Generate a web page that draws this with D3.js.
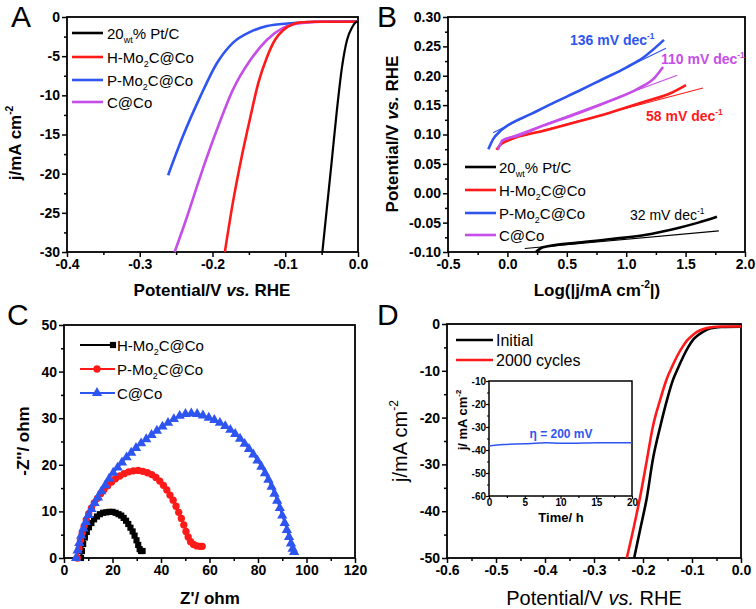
<!DOCTYPE html>
<html><head><meta charset="utf-8">
<script src="https://cdn.jsdelivr.net/npm/d3@7"></script>
<style>body{margin:0;background:#fff} svg{display:block} text{font-family:"Liberation Sans",Arial,sans-serif}</style>
</head><body><svg id="c" width="756" height="609"></svg>
<script>
// ---------- DATA ----------
// Panel A: LSV curves [potential V, j mA cm-2]
const aPtC  = [[0,-0.6],[-0.001,-0.6],[-0.008,-1.3],[-0.015,-2.9],[-0.022,-6.4],[-0.029,-11.9],[-0.036,-18.3],[-0.043,-24.6],[-0.049,-30]];
const aHMo  = [[0,-0.6],[-0.06,-0.6],[-0.08,-0.7],[-0.089,-0.9],[-0.103,-1.7],[-0.114,-2.9],[-0.125,-5.1],[-0.137,-8.4],[-0.148,-12.8],[-0.16,-17.9],[-0.172,-23.7],[-0.183,-30]];
const aPMo  = [[0,-0.55],[-0.06,-0.6],[-0.093,-0.8],[-0.125,-1.15],[-0.148,-1.9],[-0.172,-3.3],[-0.194,-5.9],[-0.217,-10.2],[-0.241,-15.3],[-0.261,-20.2]];
const aCCo  = [[0,-0.6],[-0.05,-0.6],[-0.08,-0.8],[-0.103,-1.4],[-0.125,-2.9],[-0.148,-5.5],[-0.172,-9.3],[-0.194,-14.4],[-0.217,-20.4],[-0.235,-25.5],[-0.252,-30]];
const aXTicks = [-0.4,-0.3,-0.2,-0.1,0.0];
const aYTicks = [0,-5,-10,-15,-20,-25,-30];

// Panel B: Tafel plots [log j, potential]
const bPtC    = [[0.24,-0.1],[0.3,-0.092],[0.596,-0.084],[0.876,-0.078],[1.157,-0.071],[1.438,-0.059],[1.607,-0.05],[1.764,-0.04]];
const bPtCFit = [[0.146,-0.094],[1.78,-0.064]];
const bHMo    = [[-0.093,0.074],[-0.05,0.084],[0.02,0.091],[0.315,0.107],[0.596,0.122],[0.876,0.138],[1.157,0.156],[1.382,0.171],[1.503,0.184]];
const bHMoFit = [[-0.022,0.09],[1.646,0.179]];
const bPMo    = [[-0.16,0.075],[-0.12,0.092],[-0.06,0.106],[0,0.115],[0.2,0.135],[0.4,0.155],[0.6,0.174],[0.8,0.194],[1.0,0.214],[1.15,0.232],[1.318,0.261]];
const bPMoFit = [[-0.121,0.103],[1.335,0.247]];
const bCCo    = [[-0.08,0.074],[-0.04,0.09],[0.09,0.098],[0.315,0.116],[0.596,0.136],[0.876,0.158],[1.1,0.178],[1.24,0.197],[1.31,0.215]];
const bCCoFit = [[-0.05,0.09],[1.43,0.201]];
const bXTicks = [-0.5,0.0,0.5,1.0,1.5,2.0];
const bYTicks = [0.30,0.25,0.20,0.15,0.10,0.05,0.00,-0.05,-0.10];
const bSlopes = ["136","110","58","32"];

// Panel C: Nyquist [Z', -Z'']
const cHMo = [[7,0],[7.4,1.5],[7.9,3],[8.6,4.4],[9.4,5.6],[10.3,6.6],[11.3,7.5],[12.4,8.3],[13.6,8.9],[14.8,9.4],[16.1,9.7],[17.4,9.8],[18.7,9.9],[20,9.9],[21.3,9.7],[22.5,9.4],[23.6,9.1],[24.6,8.6],[25.6,8],[26.5,7.3],[27.4,6.5],[28.3,5.7],[29.1,4.8],[29.9,3.8],[30.6,2.8],[31.2,1.9],[31.8,1.5],[32.4,1.5]];
const cPMo = [[5.5,0],[6.2,2],[6.8,3.8],[7.5,5.3],[8.3,6.8],[9.2,8.2],[10.2,9.5],[11.3,10.7],[12.5,11.8],[13.8,12.8],[15.1,13.8],[16.5,14.7],[18,15.5],[19.6,16.3],[21.2,17],[23,17.6],[24.8,18.1],[26.7,18.5],[28.6,18.7],[30.6,18.8],[32.5,18.6],[34.4,18.3],[36.2,17.9],[37.9,17.3],[39.5,16.5],[41,15.6],[42.4,14.6],[43.7,13.5],[45,12.4],[46.2,11.1],[47.3,9.8],[48.4,8.5],[49.4,7.1],[50.3,5.7],[51.2,4.5],[52.2,3.5],[53.4,2.9],[54.8,2.6],[56.2,2.5],[57,2.5]];
const cCCo = [[5,0],[5.6,1.6],[6.3,3.2],[7.1,4.8],[8,6.3],[9,7.7],[10.1,9.2],[11.3,10.5],[12.6,11.8],[14,13],[15.4,14.3],[17,15.6],[18.6,17],[20.3,18.3],[22.1,19.4],[23.9,20.5],[25.8,21.6],[27.7,22.6],[29.7,23.6],[31.8,24.6],[33.9,25.5],[36.1,26.4],[38.3,27.3],[40.6,28.2],[42.9,29],[45.3,29.8],[47.7,30.5],[50.1,30.9],[52.5,31],[54.9,30.9],[57.3,30.6],[59.7,30.1],[62,29.6],[64.3,29],[66.5,28.3],[68.6,27.5],[70.6,26.6],[72.6,25.6],[74.5,24.5],[76.3,23.4],[78.1,22.2],[79.8,20.9],[81.4,19.6],[82.9,18.2],[84.3,16.8],[85.6,15.3],[86.8,13.8],[87.9,12.3],[89,10.7],[90,9.1],[91,7.5],[91.9,6],[92.8,4.5],[93.6,3.1],[94.3,2],[94.9,1.3]];
const cXTicks = [0,20,40,60,80,100,120];
const cYTicks = [0,10,20,30,40,50];

// Panel D: stability LSV [potential, j]
const dInitial = [[0,-0.6],[-0.04,-0.65],[-0.055,-0.8],[-0.065,-1.0],[-0.078,-1.7],[-0.088,-2.4],[-0.098,-3.4],[-0.108,-5],[-0.118,-7],[-0.128,-9.3],[-0.139,-12],[-0.151,-16.2],[-0.165,-22],[-0.18,-29],[-0.192,-37],[-0.206,-44],[-0.218,-50]];
const d2000    = [[0,-0.5],[-0.04,-0.55],[-0.06,-0.7],[-0.075,-1.0],[-0.09,-1.7],[-0.1,-2.5],[-0.11,-3.5],[-0.12,-5],[-0.131,-7],[-0.141,-9.2],[-0.151,-11.6],[-0.165,-16.2],[-0.18,-22],[-0.192,-29],[-0.206,-37],[-0.22,-44],[-0.233,-50]];
const dXTicks = [-0.6,-0.5,-0.4,-0.3,-0.2,-0.1,0.0];
const dYTicks = [0,-10,-20,-30,-40,-50];
// Inset: chronoamperometry [time h, j]
const insetJ = [[0,-38.2],[0.5,-38],[2,-37.6],[5,-37.3],[7,-37],[8,-36.9],[10,-37.1],[13,-37],[15,-36.9],[17,-36.8],[20,-36.8]];
const insetXTicks = [0,5,10,15,20];
const insetYTicks = [-10,-20,-30,-40,-50,-60];

// ---------- COLORS ----------
const BLACK="#000", RED="#ff1a1a", BLUE="#2f55f0", VIOLET="#c64ee8";

// ---------- HELPERS ----------
const svg = d3.select("#c");
const hy = s => s.replace(/\u2212/g,"-");
function rich(t, parts, fs){
  let shift=0;
  parts.forEach(p=>{
    const [s,type]=Array.isArray(p)?p:[p,""];
    const ts=t.append("tspan").text(s);
    let target = type==="sub"? fs*0.3 : type==="sup"? -fs*0.45 : 0;
    if(target!==shift){ ts.attr("dy", target-shift); shift=target; }
    if(type) ts.attr("font-size", fs*0.6);
  });
  return t;
}
function panel(o){
  const x=d3.scaleLinear().domain(o.xd).range([o.l,o.r]);
  const y=d3.scaleLinear().domain(o.yd).range([o.b,o.t]);
  const g=svg.append("g");
  const fs=o.fs||14, sw=o.sw||1.5;
  const mj=o.major||5, mn=o.minor||3;
  const pad=o.pad===undefined?2:o.pad;
  const ax=g.append("g").attr("transform",`translate(0,${o.b})`)
    .call(d3.axisBottom(x).tickValues(o.xt).tickSize(mj).tickPadding(pad).tickFormat(d=>hy(o.xf(d))));
  const axm=g.append("g").attr("transform",`translate(0,${o.b})`)
    .call(d3.axisBottom(x).tickValues(o.xm).tickSize(mn).tickFormat(""));
  const ay=g.append("g").attr("transform",`translate(${o.l},0)`)
    .call(d3.axisLeft(y).tickValues(o.yt).tickSize(mj).tickPadding(pad).tickFormat(d=>hy(o.yf(d))));
  const aym=g.append("g").attr("transform",`translate(${o.l},0)`)
    .call(d3.axisLeft(y).tickValues(o.ym).tickSize(mn).tickFormat(""));
  [ax,axm,ay,aym].forEach(a=>{a.select(".domain").remove();a.selectAll("line").attr("stroke","#000").attr("stroke-width",sw);
    a.selectAll("text").attr("font-size",fs).attr("font-weight","bold").attr("fill","#000").attr("font-family","'Liberation Sans',Arial,sans-serif");});
  g.append("rect").attr("x",o.l).attr("y",o.t).attr("width",o.r-o.l).attr("height",o.b-o.t)
    .attr("fill","none").attr("stroke","#000").attr("stroke-width",sw+0.3);
  return {x,y,g};
}
function range(a,b,s){const r=[];for(let v=a;v<=b+1e-9;v+=s)r.push(+v.toFixed(6));return r;}
function curve(p,data,color,w){
  p.g.append("path").datum(data).attr("fill","none").attr("stroke",color).attr("stroke-width",w)
   .attr("stroke-linejoin","round").attr("stroke-linecap","butt")
   .attr("d",d3.line().x(d=>p.x(d[0])).y(d=>p.y(d[1])).curve(d3.curveMonotoneX));
}
function curveXY(p,data,color,w){
  p.g.append("path").datum(data).attr("fill","none").attr("stroke",color).attr("stroke-width",w)
   .attr("stroke-linejoin","round")
   .attr("d",d3.line().x(d=>p.x(d[0])).y(d=>p.y(d[1])).curve(d3.curveCatmullRom));
}
function label(x,y,parts,opt){
  const t=svg.append("text").attr("x",x).attr("y",y).attr("font-size",opt.fs)
    .attr("font-weight",opt.bold?"bold":"normal").attr("fill",opt.fill||"#000")
    .attr("text-anchor",opt.anchor||"start");
  if(opt.rot) t.attr("transform",`rotate(-90,${x},${y})`);
  rich(t,parts,opt.fs); return t;
}
const f1=d3.format(".1f"), f2=d3.format(".2f"), f0=d3.format("d");

// ---------- PANEL A ----------
const A=panel({l:67,r:358,t:17,b:252,xd:[-0.4,0],yd:[-30,0],xt:aXTicks,xm:range(-0.35,-0.05,0.1),
  yt:aYTicks,ym:range(-27.5,-2.5,5),xf:f1,yf:f0});
curve(A,aPMo.slice().reverse(),BLUE,2.6);
curve(A,aCCo.slice().reverse(),VIOLET,2.6);
curve(A,aHMo.slice().reverse(),RED,2.6);
curve(A,aPtC.slice().reverse(),BLACK,2.2);
const legA=[[["20"],["wt","sub"],["% Pt/C"]],[["H-Mo"],["2","sub"],["C@Co"]],[["P-Mo"],["2","sub"],["C@Co"]],[["C@Co"]]];
[BLACK,RED,BLUE,VIOLET].forEach((c,i)=>{
  const yy=[33,57,80,102][i];
  svg.append("line").attr("x1",72).attr("x2",103).attr("y1",yy).attr("y2",yy).attr("stroke",c).attr("stroke-width",2.6);
  label(107,yy+5.5,legA[i],{fs:15});
});
label(212,296,[["Potential/V "],["vs."],[" RHE"]],{fs:17,bold:true,anchor:"middle"}).selectAll("tspan").filter((d,i)=>i===1).attr("font-style","italic");
label(21,143,[["j/mA cm"],["-2","sup"]],{fs:17,bold:true,anchor:"middle",rot:true});
svg.append("text").attr("x",11).attr("y",27).attr("font-size",30).text("A");

// ---------- PANEL B ----------
const B=panel({l:448,r:745,t:17,b:252,xd:[-0.5,2],yd:[-0.1,0.3],xt:bXTicks,xm:range(-0.25,1.75,0.5),
  yt:bYTicks,ym:range(-0.075,0.275,0.05),xf:f1,yf:f2});
curve(B,bPtC,BLACK,2.6); curve(B,bPtCFit,BLACK,1.1);
curve(B,bHMo,RED,2.6); curve(B,bHMoFit,RED,1.1);
curve(B,bCCo,VIOLET,2.6); curve(B,bCCoFit,VIOLET,1.1);
curve(B,bPMo,BLUE,2.6); curve(B,bPMoFit,BLUE,1.1);
[BLACK,RED,BLUE,VIOLET].forEach((c,i)=>{
  const yy=[167,190,213,235][i];
  svg.append("line").attr("x1",465).attr("x2",496).attr("y1",yy).attr("y2",yy).attr("stroke",c).attr("stroke-width",2.6);
  label(499,yy+5.5,legA[i],{fs:15});
});
label(570,45,[[bSlopes[0]+" mV dec"],["-1","sup"]],{fs:14,bold:true,fill:BLUE});
label(661,64,[[bSlopes[1]+" mV dec"],["-1","sup"]],{fs:14,bold:true,fill:VIOLET});
label(646,121,[[bSlopes[2]+" mV dec"],["-1","sup"]],{fs:14,bold:true,fill:RED});
label(630,220,[[bSlopes[3]+" mV dec"],["-1","sup"]],{fs:14,fill:BLACK});
label(597,296,[["Log(|j/mA cm"],["-2","sup"],["|)"]],{fs:17,bold:true,anchor:"middle"});
label(398,134,[["Potential/V "],["vs."],[" RHE"]],{fs:17,bold:true,anchor:"middle",rot:true}).selectAll("tspan").filter((d,i)=>i===1).attr("font-style","italic");
svg.append("text").attr("x",377).attr("y",27).attr("font-size",30).text("B");

// ---------- PANEL C ----------
const C=panel({l:64,r:355,t:325,b:558,xd:[0,120],yd:[0,50],xt:cXTicks,xm:range(10,110,20),
  yt:cYTicks,ym:range(5,45,10),xf:f0,yf:f0});
const sym={sq:d3.symbol().type(d3.symbolSquare).size(38),ci:d3.symbol().type(d3.symbolCircle).size(42),tr:d3.symbol().type(d3.symbolTriangle).size(46)};
function series(p,data,color,s){
  curveXY(p,data,color,2);
  p.g.selectAll(null).data(data).enter().append("path").attr("d",s)
   .attr("transform",d=>`translate(${p.x(d[0])},${p.y(d[1])})`).attr("fill",color);
}
series(C,cHMo,BLACK,sym.sq);
series(C,cPMo,RED,sym.ci);
series(C,cCCo,BLUE,sym.tr);
const legC=[[["H-Mo"],["2","sub"],["C@Co"]],[["P-Mo"],["2","sub"],["C@Co"]],[["C@Co"]]];
[[BLACK,sym.sq],[RED,sym.ci],[BLUE,sym.tr]].forEach(([c,s],i)=>{
  const yy=[345,369,393][i];
  svg.append("line").attr("x1",80).attr("x2",115).attr("y1",yy).attr("y2",yy).attr("stroke",c).attr("stroke-width",2);
  svg.append("path").attr("d",s).attr("transform",`translate(${i===0?113:97},${yy})`).attr("fill",c);
  label(117,yy+5.5,legC[i],{fs:15});
});
label(210,604,[["Z'/ ohm"]],{fs:17,bold:true,anchor:"middle"});
label(29,441,[["-Z''/ ohm"]],{fs:17,bold:true,anchor:"middle",rot:true});
svg.append("text").attr("x",7).attr("y",325).attr("font-size",30).text("C");

// ---------- PANEL D ----------
const D=panel({l:447,r:741,t:324,b:558,xd:[-0.6,0],yd:[-50,0],xt:dXTicks,xm:range(-0.55,-0.05,0.1),
  yt:dYTicks,ym:range(-45,-5,10),xf:f1,yf:f0});
curve(D,dInitial.slice().reverse(),BLACK,2.6);
curve(D,d2000.slice().reverse(),RED,2.6);
[[BLACK,"Initial"],[RED,"2000 cycles"]].forEach(([c,t],i)=>{
  const yy=[340,360][i];
  svg.append("line").attr("x1",456).attr("x2",493).attr("y1",yy).attr("y2",yy).attr("stroke",c).attr("stroke-width",2.6);
  label(496,yy+6,[[t]],{fs:16});
});
label(594,605,[["Potential/V "],["vs."],[" RHE"]],{fs:20,anchor:"middle"}).selectAll("tspan").filter((d,i)=>i===1).attr("font-style","italic");
label(407,441,[["j/mA cm"],["-2","sup"]],{fs:20,anchor:"middle",rot:true});
svg.append("text").attr("x",377).attr("y",325).attr("font-size",30).text("D");

// inset
const I=panel({l:489,r:632,t:381,b:496,xd:[0,20],yd:[-60,-10],xt:insetXTicks,xm:range(2.5,17.5,5),
  yt:insetYTicks,ym:range(-55,-15,10),xf:f0,yf:f0,fs:10,major:3,minor:2,sw:1.2,pad:0});
curve(I,insetJ,BLUE,1.5);
label(561,438,[["η = 200 mV"]],{fs:12,bold:true,fill:BLUE,anchor:"middle"});
label(561,522,[["Time/ h"]],{fs:13,bold:true,anchor:"middle"});
label(467,420,[["j/ mA cm"],["-2","sup"]],{fs:13,bold:true,anchor:"middle",rot:true});
</script></body></html>
